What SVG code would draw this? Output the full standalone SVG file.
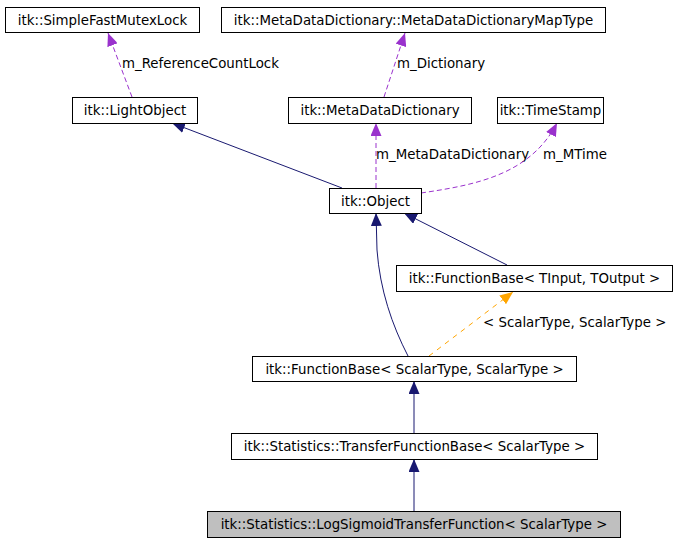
<svg xmlns="http://www.w3.org/2000/svg" width="676" height="541" viewBox="0 0 676 541">
<style>
.box{fill:#ffffff;stroke:#000000;stroke-width:1}
.cur{fill:#bfbfbf;stroke:#000000;stroke-width:1}
text{font-family:"DejaVu Sans","Liberation Sans",sans-serif;font-size:13.35px;fill:#000000}
.n{text-anchor:middle}
.inh{fill:none;stroke:#191970;stroke-width:1}
.use{fill:none;stroke:#9a32cd;stroke-width:1;stroke-dasharray:5,3}
.tpl{fill:none;stroke:#ffa500;stroke-width:1;stroke-dasharray:5,5}
</style>
<defs>
<marker id="aNavy" markerUnits="userSpaceOnUse" markerWidth="14" markerHeight="11" viewBox="0 0 14 11" refX="13" refY="5.5" orient="auto"><path d="M0,0 L13,5.5 L0,11 z" fill="#191970"/></marker>
<marker id="aPurple" markerUnits="userSpaceOnUse" markerWidth="14" markerHeight="11" viewBox="0 0 14 11" refX="13" refY="5.5" orient="auto"><path d="M0,0 L13,5.5 L0,11 z" fill="#9a32cd"/></marker>
<marker id="aOrange" markerUnits="userSpaceOnUse" markerWidth="14" markerHeight="11" viewBox="0 0 14 11" refX="13" refY="5.5" orient="auto"><path d="M0,0 L13,5.5 L0,11 z" fill="#ffa500"/></marker>
</defs>
<rect width="676" height="541" fill="#ffffff"/>
<g id="connectors">
<path class="use" d="M132,97 L108,33" marker-end="url(#aPurple)"/>
<text x="122" y="68">m_ReferenceCountLock</text>
<path class="use" d="M384,97 L405,33" marker-end="url(#aPurple)"/>
<text x="397" y="68">m_Dictionary</text>
<path class="use" d="M376,188 L376,123" marker-end="url(#aPurple)"/>
<text x="376" y="159">m_MetaDataDictionary</text>
<path class="use" d="M421,193 C475,185 530,175 557,123" marker-end="url(#aPurple)"/>
<text x="543" y="159">m_MTime</text>
<path class="inh" d="M342,188 L172,123" marker-end="url(#aNavy)"/>
<path class="inh" d="M507,265 L404,213" marker-end="url(#aNavy)"/>
<path class="inh" d="M408,356 C392,325 380,290 377,250 L376,213" marker-end="url(#aNavy)"/>
<path class="tpl" d="M429,356 L513,292" marker-end="url(#aOrange)"/>
<text x="483" y="327">&lt; ScalarType, ScalarType &gt;</text>
<path class="inh" d="M414,433 L414,381" marker-end="url(#aNavy)"/>
<path class="inh" d="M414,511 L414,459" marker-end="url(#aNavy)"/>
</g>
<g id="SimpleFastMutexLock"><rect class="box" x="5.5" y="7.5" width="194" height="25"/><text class="n" x="102.5" y="24.5">itk::SimpleFastMutexLock</text></g>
<g id="MetaDataDictionaryMapType"><rect class="box" x="221.5" y="7.5" width="384" height="25"/><text class="n" x="413.5" y="24.5">itk::MetaDataDictionary::MetaDataDictionaryMapType</text></g>
<g id="LightObject"><rect class="box" x="72.5" y="97.5" width="125" height="26"/><text class="n" x="135" y="114.5">itk::LightObject</text></g>
<g id="MetaDataDictionary"><rect class="box" x="288.5" y="97.5" width="183" height="26"/><text class="n" x="380" y="114.5">itk::MetaDataDictionary</text></g>
<g id="TimeStamp"><rect class="box" x="497.5" y="97.5" width="106" height="26"/><text class="n" x="550.5" y="114.5">itk::TimeStamp</text></g>
<g id="Object"><rect class="box" x="329.5" y="188.5" width="92" height="25"/><text class="n" x="375.5" y="205.5">itk::Object</text></g>
<g id="FunctionBaseTInput"><rect class="box" x="396.5" y="265.5" width="276" height="26"/><text class="n" x="534.5" y="282.5">itk::FunctionBase&lt; TInput, TOutput &gt;</text></g>
<g id="FunctionBaseScalar"><rect class="box" x="252.5" y="356.5" width="324" height="25"/><text class="n" x="414.5" y="373.5">itk::FunctionBase&lt; ScalarType, ScalarType &gt;</text></g>
<g id="TransferFunctionBase"><rect class="box" x="231.5" y="433.5" width="366" height="26"/><text class="n" x="414.5" y="450.5">itk::Statistics::TransferFunctionBase&lt; ScalarType &gt;</text></g>
<g id="LogSigmoidTransferFunction"><rect class="cur" x="207.5" y="511.5" width="413" height="26"/><text class="n" x="414" y="528.5">itk::Statistics::LogSigmoidTransferFunction&lt; ScalarType &gt;</text></g>
</svg>
